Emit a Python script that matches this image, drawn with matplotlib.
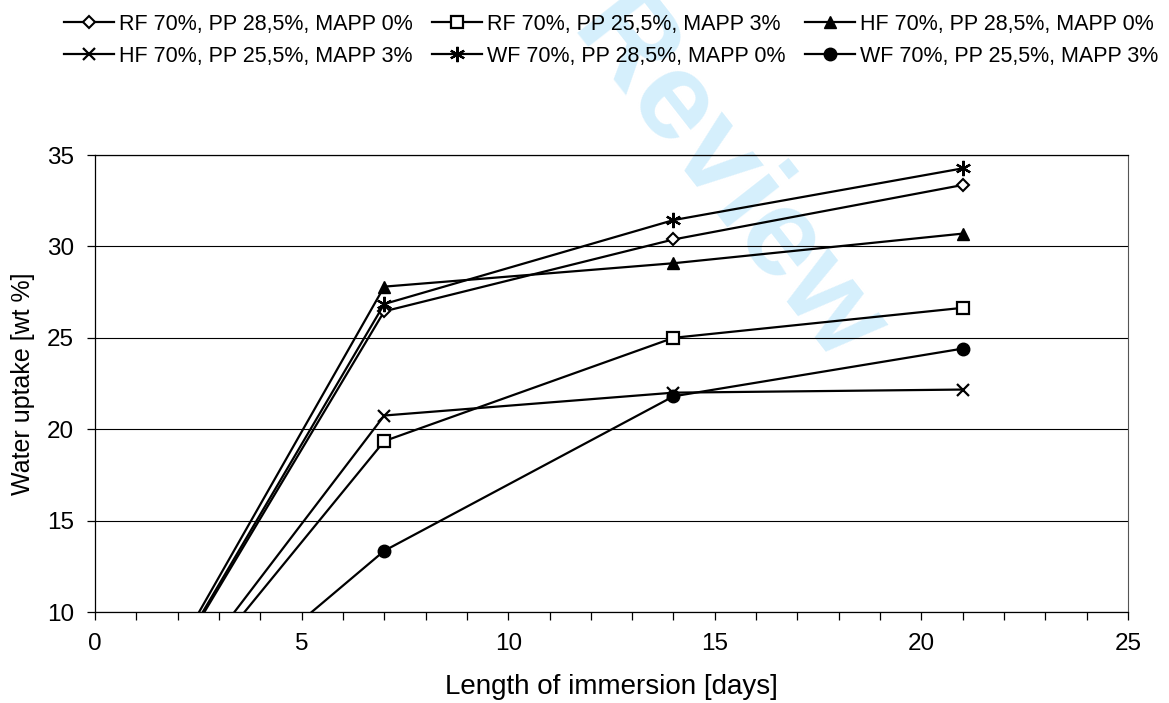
import matplotlib.pyplot as plt
from matplotlib.ticker import MultipleLocator

plt.rcParams['font.family'] = ['Liberation Sans', 'DejaVu Sans']

# immersion time [days] and water uptake [wt %]
days = [0, 7, 14, 21]
labels = [
    'RF 70%, PP 28,5%, MAPP 0%',
    'RF 70%, PP 25,5%, MAPP 3%',
    'HF 70%, PP 28,5%, MAPP 0%',
    'HF 70%, PP 25,5%, MAPP 3%',
    'WF 70%, PP 28,5%, MAPP 0%',
    'WF 70%, PP 25,5%, MAPP 3%',
]
rf_pp285 = [0, 26.45, 30.38, 33.36]
rf_mapp3 = [0, 19.35, 25.0, 26.64]
hf_pp285 = [0, 27.8, 29.08, 30.7]
hf_mapp3 = [0, 20.75, 22.0, 22.17]
wf_pp285 = [0, 26.85, 31.44, 34.27]
wf_mapp3 = [0, 13.35, 21.8, 24.41]
series = [rf_pp285, rf_mapp3, hf_pp285, hf_mapp3, wf_pp285, wf_mapp3]

styles = [
    dict(marker='D', markersize=6, markerfacecolor='white', markeredgewidth=1.5),
    dict(marker='s', markersize=8, markerfacecolor='white', markeredgewidth=1.6),
    dict(marker='^', markersize=9, markerfacecolor='black'),
    dict(marker='x', markersize=9, markeredgewidth=1.6),
    dict(marker=(6, 2, 0), markersize=11, markeredgewidth=1.6),
    dict(marker='o', markersize=9, markerfacecolor='black'),
]

fig = plt.figure(figsize=(11.69, 7.03), dpi=100)
ax = fig.add_axes([0.0813, 0.1294, 0.8836, 0.6501])

handles = []
for y, st, lab in zip(series, styles, labels):
    h, = ax.plot(days, y, color='black', lw=1.6, label=lab,
                 markeredgecolor='black', **st)
    handles.append(h)

ax.set_xlim(0, 25)
ax.set_ylim(10, 35)
ax.xaxis.set_major_locator(MultipleLocator(5))
ax.xaxis.set_minor_locator(MultipleLocator(1))
ax.yaxis.set_major_locator(MultipleLocator(5))
ax.tick_params(axis='both', which='major', direction='out', length=6,
               width=0.9, labelsize=17.5, pad=9)
ax.tick_params(axis='x', which='minor', direction='out', length=6, width=0.9)
ax.grid(axis='y', color='black', lw=0.8)
for s in ['left', 'bottom', 'top']:
    ax.spines[s].set_linewidth(0.9)
ax.spines['right'].set_linewidth(0.8)
ax.spines['right'].set_color('#555555')

ax.set_xlabel('Length of immersion [days]', fontsize=20, labelpad=14)
ax.set_ylabel('Water uptake [wt %]', fontsize=18, labelpad=9)

# watermark behind the data
ax.text(0.62, 0.74, 'Review', transform=fig.transFigure, rotation=-52,
        fontsize=90, fontweight='bold', color='#d5effc', ha='center',
        va='center', zorder=0.5, clip_on=False)

# legend fills column-wise, so reorder to get the row layout
order = [0, 3, 1, 4, 2, 5]
fig.legend([handles[i] for i in order], [labels[i] for i in order],
           loc='upper center', bbox_to_anchor=(0.523, 1.008), ncol=3,
           frameon=False, fontsize=15.5, handlelength=2.3, handletextpad=0.25,
           columnspacing=0.9, labelspacing=0.5)

plt.savefig('out.png', dpi=100)
